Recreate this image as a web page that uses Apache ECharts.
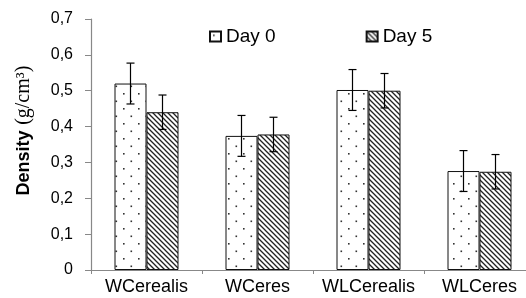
<!DOCTYPE html>
<html>
<head>
<meta charset="utf-8">
<script src="https://cdn.jsdelivr.net/npm/echarts@6/dist/echarts.min.js"></script>
<style>
  html, body { margin: 0; padding: 0; background: #fff; }
  #chart { width: 526px; height: 298px; }
</style>
</head>
<body>
<div id="chart"></div>
<script>
// 数据
const categories = ['WCerealis', 'WCeres', 'WLCerealis', 'WLCeres']
const seriesNames = ['Day 0', 'Day 5']
const day0Values = [0.52, 0.374, 0.502, 0.276]
const day5Values = [0.44, 0.378, 0.50, 0.274]
const day0Errors = [0.057, 0.057, 0.057, 0.057]
const day5Errors = [0.048, 0.048, 0.048, 0.048]
const yTicks = [0, 0.1, 0.2, 0.3, 0.4, 0.5, 0.6, 0.7]

const BAR_W = 32

// 点状填充
function makeDots() {
  const c = document.createElement('canvas')
  c.width = 15
  c.height = 15
  const ctx = c.getContext('2d')
  ctx.fillStyle = '#fff'
  ctx.fillRect(0, 0, 15, 15)
  ctx.fillStyle = '#333'
  ctx.fillRect(3, 3, 1.6, 1.6)
  ctx.fillRect(10.5, 10.5, 1.6, 1.6)
  return c
}

// 斜线填充
function makeHatch() {
  const s = 5
  const c = document.createElement('canvas')
  c.width = s
  c.height = s
  const ctx = c.getContext('2d')
  ctx.fillStyle = '#fff'
  ctx.fillRect(0, 0, s, s)
  ctx.strokeStyle = '#222'
  ctx.lineWidth = 1.3
  ctx.beginPath()
  ctx.moveTo(-1, -1); ctx.lineTo(s + 1, s + 1)
  ctx.moveTo(-1, s - 1); ctx.lineTo(1, s + 1)
  ctx.moveTo(s - 1, -1); ctx.lineTo(s + 1, 1)
  ctx.stroke()
  return c
}

const dotFill = { image: makeDots(), repeat: 'repeat' }
const hatchFill = { image: makeHatch(), repeat: 'repeat' }

// 误差线
function errorSeries(values, errors, offset) {
  return {
    type: 'custom',
    z: 10,
    silent: true,
    data: values.map((v, i) => [i, v - errors[i], v + errors[i]]),
    renderItem(params, api) {
      const lo = api.coord([api.value(0), api.value(1)])
      const hi = api.coord([api.value(0), api.value(2)])
      const x = lo[0] + offset
      const cap = 4
      const style = { stroke: '#000', lineWidth: 1.2 }
      return {
        type: 'group',
        children: [
          { type: 'line', shape: { x1: x, y1: lo[1], x2: x, y2: hi[1] }, style },
          { type: 'line', shape: { x1: x - cap, y1: lo[1], x2: x + cap, y2: lo[1] }, style },
          { type: 'line', shape: { x1: x - cap, y1: hi[1], x2: x + cap, y2: hi[1] }, style },
        ],
      }
    },
  }
}

const chart = echarts.init(document.getElementById('chart'))

const option = {
  animation: false,
  backgroundColor: '#fff',
  grid: { left: 91, top: 19, right: -9, bottom: 28, outerBoundsMode: 'none', containLabel: false },
  legend: {
    data: seriesNames,
    left: 209,
    top: 27,
    padding: 0,
    itemWidth: 11,
    itemHeight: 10,
    itemGap: 90,
    icon: 'rect',
    textStyle: { fontFamily: "'Liberation Sans', Arial, sans-serif", fontSize: 19, color: '#000' },
  },
  xAxis: {
    type: 'category',
    data: categories,
    axisLine: { lineStyle: { color: '#888', width: 1.2 } },
    axisTick: { show: true, length: 4, lineStyle: { color: '#888' } },
    axisLabel: {
      interval: 0,
      margin: 8,
      fontFamily: "'Liberation Sans', Arial, sans-serif",
      fontSize: 18,
      color: '#000',
    },
  },
  yAxis: {
    type: 'value',
    min: yTicks[0],
    max: yTicks[yTicks.length - 1],
    interval: 0.1,
    name: '{b|Density} {s|(g/cm³)}',
    nameLocation: 'middle',
    nameGap: 57,
    nameTextStyle: {
      padding: [0, 0, 0, 28],
      fontSize: 20,
      rich: {
        b: { fontFamily: "'Liberation Sans Narrow', sans-serif", fontWeight: 'bold', fontSize: 18, color: '#000' },
        s: { fontFamily: "'Liberation Serif', serif", fontSize: 20, color: '#000' },
      },
    },
    axisLine: { show: true, lineStyle: { color: '#888', width: 1.2 } },
    axisTick: { show: true, length: 6, lineStyle: { color: '#888' } },
    splitLine: { show: false },
    axisLabel: {
      margin: 18,
      fontFamily: "'Liberation Sans', Arial, sans-serif",
      fontSize: 16,
      color: '#000',
      formatter: (v) => String(Math.round(v * 10) / 10).replace('.', ','),
    },
  },
  series: [
    {
      name: seriesNames[0],
      type: 'bar',
      barWidth: BAR_W,
      barGap: '0%',
      data: day0Values,
      itemStyle: { color: dotFill, borderColor: '#111', borderWidth: 1 },
    },
    {
      name: seriesNames[1],
      type: 'bar',
      barWidth: BAR_W,
      barGap: '0%',
      data: day5Values,
      itemStyle: { color: hatchFill, borderColor: '#111', borderWidth: 1 },
    },
    errorSeries(day0Values, day0Errors, -BAR_W / 2),
    errorSeries(day5Values, day5Errors, BAR_W / 2),
  ],
}

chart.setOption(option)
</script>
</body>
</html>
